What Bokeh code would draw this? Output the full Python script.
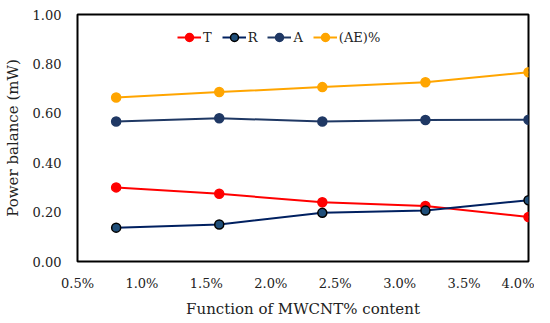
from bokeh.plotting import figure
from bokeh.models import NumeralTickFormatter, FixedTicker, Legend, LegendItem
from bokeh.embed import file_html
from bokeh.resources import INLINE

content = [0.008, 0.016, 0.024, 0.032, 0.040]
T = [0.300, 0.274, 0.240, 0.225, 0.180]
R = [0.137, 0.150, 0.197, 0.206, 0.248]
A = [0.567, 0.580, 0.567, 0.573, 0.574]
AE = [0.664, 0.686, 0.706, 0.726, 0.766]
x_ticks = [0.005, 0.010, 0.015, 0.020, 0.025, 0.030, 0.035, 0.040]
y_ticks = [0.0, 0.2, 0.4, 0.6, 0.8, 1.0]

FONT = "DejaVu Serif"

p = figure(width=534, height=320, output_backend="svg", toolbar_location=None,
           x_range=(0.005, 0.040), y_range=(0.0, 1.0),
           min_border_left=76, min_border_right=6, min_border_top=14, min_border_bottom=57)
p.grid.visible = False
p.outline_line_color = "black"
p.outline_line_width = 2
p.outline_line_alpha = 1.0

for ax in (p.xaxis[0], p.yaxis[0]):
    ax.axis_line_color = None
    ax.major_tick_line_color = None
    ax.minor_tick_line_color = None
    ax.major_tick_out = 0
    ax.major_tick_in = 0
    ax.minor_tick_out = 0
    ax.minor_tick_in = 0
    ax.major_label_text_font = FONT
    ax.major_label_text_font_size = "13px"
    ax.major_label_text_color = "#222222"
    ax.axis_label_text_font = FONT
    ax.axis_label_text_font_size = "15px"
    ax.axis_label_text_font_style = "normal"
    ax.axis_label_text_color = "#222222"

p.xaxis.ticker = FixedTicker(ticks=x_ticks)
p.yaxis.ticker = FixedTicker(ticks=y_ticks)
p.xaxis.formatter = NumeralTickFormatter(format="0.0%")
p.yaxis.formatter = NumeralTickFormatter(format="0.00")
p.xaxis.major_label_standoff = 14
p.yaxis.major_label_standoff = 16
p.xaxis.axis_label = "Function of MWCNT% content"
p.yaxis.axis_label = "Power balance (mW)"
p.xaxis.axis_label_standoff = 6
p.yaxis.axis_label_standoff = 8

series = [
    ("T", T, "#FF0000", "#FF0000", "#FF0000"),
    ("R", R, "#002060", "#1F4E79", "#000000"),
    ("A", A, "#1F3864", "#1F3864", "#1F3864"),
    ("(AE)%", AE, "#FFA500", "#FFA500", "#FFA500"),
]
items = []
for name, ys, lc, fc, oc in series:
    l = p.line(content, ys, line_color=lc, line_width=2)
    s = p.scatter(content, ys, size=9, fill_color=fc, line_color=oc, line_width=1.5)
    items.append(LegendItem(label=name, renderers=[l, s]))

legend = Legend(items=items, orientation="horizontal", location=(100, 214),
                background_fill_alpha=0, border_line_color=None,
                label_text_font=FONT, label_text_font_size="13px",
                label_text_color="#222222", glyph_width=24, spacing=10,
                label_standoff=2, label_width=0, padding=2, margin=0)
p.add_layout(legend, "center")

open("out.html", "w").write(file_html(p, INLINE))
